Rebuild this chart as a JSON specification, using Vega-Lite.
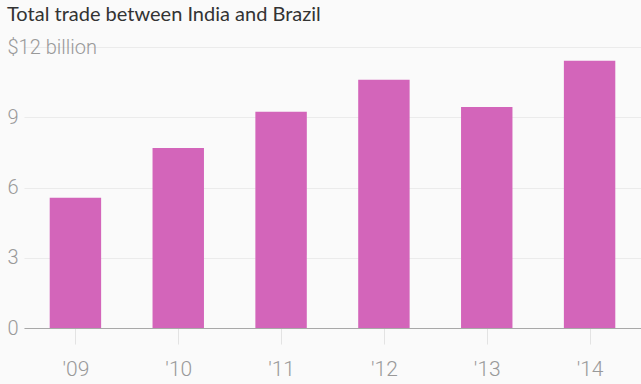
{
  "$schema": "https://vega.github.io/schema/vega-lite/v6.json",
  "autosize": "none",
  "width": 617,
  "height": 281,
  "padding": {"left": 24, "top": 47, "right": 0, "bottom": 56},
  "background": "#fafafa",
  "title": {
    "text": "Total trade between India and Brazil",
    "anchor": "start",
    "frame": "group",
    "dx": -17,
    "offset": 12,
    "font": "Lato",
    "fontSize": 20,
    "fontWeight": "normal",
    "color": "#333333"
  },
  "data": {
    "values": [
      {"year": "'09", "trade": 5.56},
      {"year": "'10", "trade": 7.69},
      {"year": "'11", "trade": 9.23},
      {"year": "'12", "trade": 10.6},
      {"year": "'13", "trade": 9.44},
      {"year": "'14", "trade": 11.41}
    ]
  },
  "mark": {"type": "bar", "color": "#d365ba"},
  "encoding": {
    "x": {
      "field": "year",
      "type": "nominal",
      "sort": null,
      "scale": {"paddingInner": 0.5, "paddingOuter": 0.25},
      "axis": {
        "title": null,
        "labelAngle": 0,
        "labelFont": "Roboto",
        "labelFontWeight": 300,
        "labelFontSize": 21,
        "labelColor": "#999999",
        "labelPadding": 14,
        "domainColor": "#a8a8a8",
        "tickColor": "#e3e3e3",
        "tickSize": 16,
        "tickOffset": 0
      }
    },
    "y": {
      "field": "trade",
      "type": "quantitative",
      "scale": {"domain": [0, 12]},
      "axis": {
        "title": null,
        "values": [0, 3, 6, 9, 12],
        "labelExpr": "datum.value == 12 ? '$12 billion' : datum.label",
        "labelAlign": "left",
        "labelBaseline": "middle",
        "labelPadding": 17,
        "labelFont": "Roboto",
        "labelFontWeight": 300,
        "labelFontSize": 20,
        "labelColor": "#999999",
        "ticks": false,
        "tickSize": 0,
        "domain": false,
        "gridColor": "#ebebeb"
      }
    }
  },
  "config": {"view": {"stroke": null}}
}
